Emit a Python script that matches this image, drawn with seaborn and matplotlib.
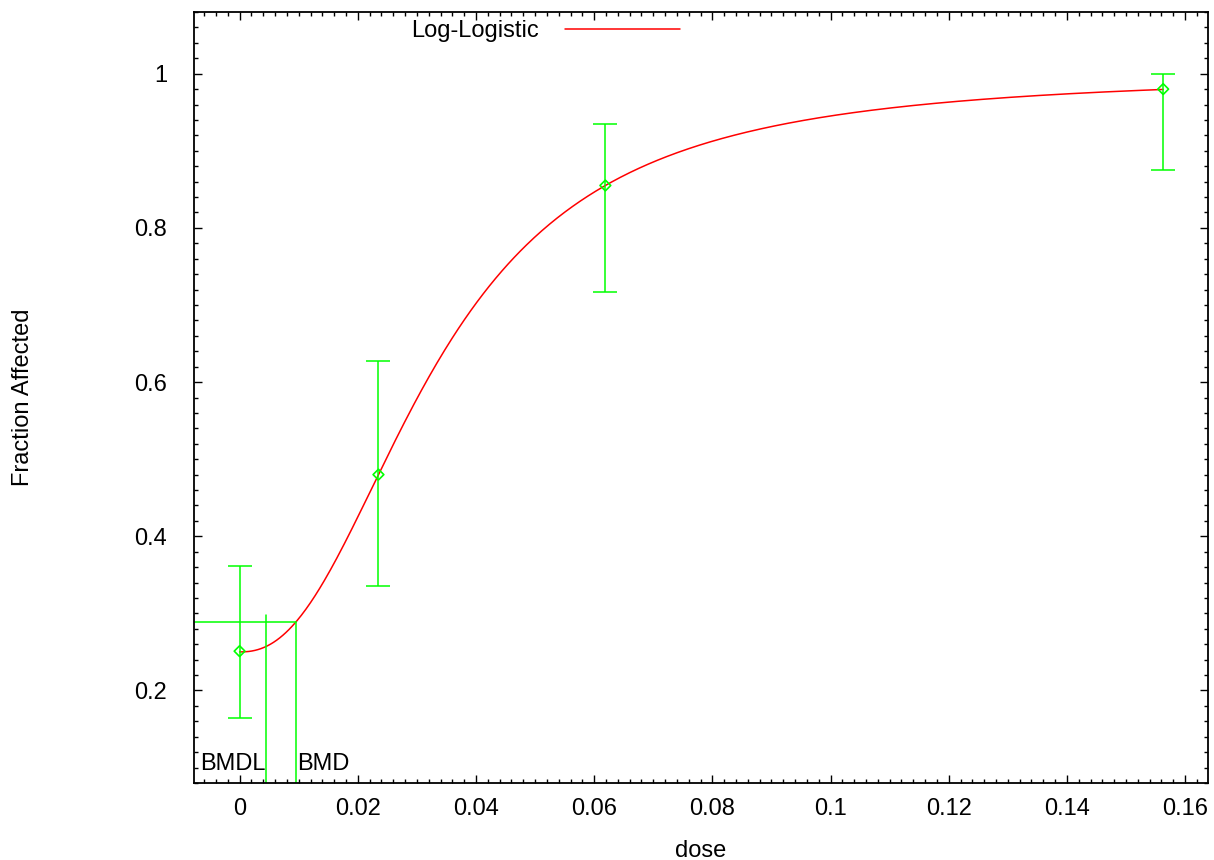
import numpy as np
import pandas as pd
import matplotlib
matplotlib.use("Agg")
import matplotlib.pyplot as plt
import seaborn as sns
from matplotlib.ticker import MultipleLocator

# ---- data ----
doses = [0.0, 0.0235, 0.0619, 0.1563]
fraction = [0.251, 0.480, 0.855, 0.980]
err_low = [0.1637, 0.336, 0.717, 0.8757]
err_high = [0.362, 0.627, 0.935, 0.9995]

# fitted log-logistic model parameters (background, intercept, slope)
background = 0.25
intercept = 7.875
slope = 2.3171

bmd = 0.00949
bmdl = 0.00441
bmr_level = 0.2885
bmdl_top = 0.2985

x_ticks = [0, 0.02, 0.04, 0.06, 0.08, 0.1, 0.12, 0.14, 0.16]
x_tick_labels = ["0", "0.02", "0.04", "0.06", "0.08", "0.1", "0.12", "0.14", "0.16"]
y_ticks = [0.2, 0.4, 0.6, 0.8, 1.0]
y_tick_labels = ["0.2", "0.4", "0.6", "0.8", "1"]

sns.set_style("ticks")
plt.rcParams["font.family"] = ["Liberation Sans", "DejaVu Sans"]
plt.rcParams["text.color"] = "black"
plt.rcParams["xtick.color"] = "black"
plt.rcParams["ytick.color"] = "black"
plt.rcParams["axes.labelcolor"] = "black"

FS = 17

fig = plt.figure(figsize=(12.14, 8.6), dpi=100)
ax = fig.add_axes([193.5 / 1214, 1 - 783 / 860, (1207.5 - 193.5) / 1214, (783 - 12) / 860])

green = "#00ff00"
red = "#ff0000"

# model curve
d = np.linspace(1e-6, doses[-1], 600)
p = background + (1 - background) / (1 + np.exp(-intercept - slope * np.log(d)))
curve = pd.DataFrame({"dose": np.concatenate([[0.0], d]), "p": np.concatenate([[background], p])})
sns.lineplot(data=curve, x="dose", y="p", ax=ax, color=red, lw=1.1, label="Log-Logistic")

# data with error bars
df = pd.DataFrame({"dose": doses, "frac": fraction, "lo": err_low, "hi": err_high})
yerr = np.array([df["frac"] - df["lo"], df["hi"] - df["frac"]])
ax.errorbar(df["dose"], df["frac"], yerr=yerr, fmt="none", ecolor=green, elinewidth=1.1,
            capsize=8.6, capthick=1.1, zorder=3)
sns.scatterplot(data=df, x="dose", y="frac", ax=ax, marker="D", s=30, facecolor="none",
                edgecolor=green, linewidth=1.2, zorder=4, legend=False)

# BMD / BMDL lines
xmin, xmax = -0.0078, 0.1638
ymin, ymax = 0.08, 1.08
ax.plot([xmin, bmd], [bmr_level, bmr_level], color=green, lw=1.1)
ax.plot([bmd, bmd], [ymin, bmr_level], color=green, lw=1.1)
ax.plot([bmdl, bmdl], [ymin, bmdl_top], color=green, lw=1.1)
ax.text(bmdl, 0.0969, "BMDL", ha="right", va="baseline", fontsize=FS)
ax.text(bmd + 0.0002, 0.0969, "BMD", ha="left", va="baseline", fontsize=FS)

ax.set_xlim(xmin, xmax)
ax.set_ylim(ymin, ymax)
ax.xaxis.set_minor_locator(MultipleLocator(0.002))
ax.yaxis.set_minor_locator(MultipleLocator(0.02))
ax.set_yticks(y_ticks)
ax.set_yticklabels(y_tick_labels)
ax.set_xticks(x_ticks)
ax.set_xticklabels(x_tick_labels)
ax.tick_params(which="both", direction="in", top=True, right=True, width=1.0, color="black")
ax.tick_params(which="major", length=6)
ax.tick_params(which="minor", length=3)
ax.tick_params(axis="x", which="major", pad=11, labelsize=FS)
ax.tick_params(axis="y", which="major", pad=19, labelsize=FS)
for s in ax.spines.values():
    s.set_linewidth(1.3)
    s.set_color("black")

ax.set_xlabel("")
ax.set_ylabel("")
fig.text(700.5 / 1214, 1 - 857 / 860, "dose", ha="center", va="baseline", fontsize=FS)
fig.text(23 / 1214, 1 - 397 / 860, "Fraction Affected", ha="center", va="center",
         rotation=90, fontsize=FS)

leg = ax.legend(loc="center left", bbox_to_anchor=(411 / 1214, 1 - 31.5 / 860),
                bbox_transform=fig.transFigure, frameon=False, markerfirst=False,
                handlelength=4.87, handletextpad=1.1, borderpad=0, borderaxespad=0, fontsize=FS)

fig.savefig("out.png", dpi=100)
